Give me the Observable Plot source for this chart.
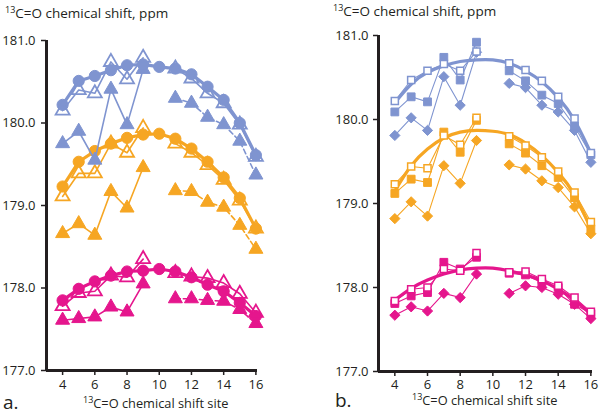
<!DOCTYPE html>
<html><head><meta charset="utf-8">
<script src="https://cdn.jsdelivr.net/npm/d3@7"></script>
<script src="https://cdn.jsdelivr.net/npm/@observablehq/plot@0.6"></script>
<style>
body{margin:0;background:#fff;font-family:"Open Sans",sans-serif;color:#231f20}
#wrap{position:relative;width:600px;height:414px;overflow:hidden;background:#fff}
.panel{position:absolute;top:0;width:300px;height:414px}
.lbl{position:absolute;font-size:13.5px;white-space:nowrap;line-height:15px;color:#231f20}
.lbl.xl{font-size:12.8px}
.lbl .sup{font-size:9px;position:relative;top:-5px}
.tag{position:absolute;font-size:19px;line-height:19px;color:#231f20}
</style></head><body>
<div id="wrap">
  <div class="panel" id="pa" style="left:0"></div>
  <div class="panel" id="pb" style="left:300px"></div>
  <div class="lbl" style="left:5px;top:6px"><span class="sup">13</span>C=O chemical shift, ppm</div>
  <div class="lbl" style="left:333px;top:4px"><span class="sup">13</span>C=O chemical shift, ppm</div>
  <div class="lbl xl" style="left:83px;top:396px"><span class="sup">13</span>C=O chemical shift site</div>
  <div class="lbl xl" style="left:412px;top:393px"><span class="sup">13</span>C=O chemical shift site</div>
  <div class="tag" style="left:3px;top:393px">a.</div>
  <div class="tag" style="left:335px;top:391px">b.</div>
</div>
<script>
const sites = [4,5,6,7,8,9,10,11,12,13,14,15,16];
const yTicks = [177,178,179,180,181];
const xTicks = [4,6,8,10,12,14,16];

// Panel a
const aBlueCircle   = [180.22,180.51,180.57,180.64,180.70,180.71,180.68,180.66,180.59,180.44,180.28,180.00,179.61];
const aBlueOpenTri  = [180.15,180.40,180.36,180.74,180.53,180.79,null,180.66,180.54,180.36,180.24,179.98,179.59];
const aBlueFillTri  = [179.75,179.90,179.55,180.41,179.98,180.65,null,180.30,180.24,180.07,179.98,179.78,179.37];
const aOrangeCircle  = [179.23,179.53,179.66,179.75,179.82,179.86,179.87,179.81,179.69,179.53,179.34,179.09,178.72];
const aOrangeOpenTri = [179.11,179.39,179.39,179.75,179.64,179.94,null,179.75,179.64,179.49,179.31,179.06,178.72];
const aOrangeFillTri = [178.66,178.78,178.64,179.17,178.97,179.46,null,179.18,179.17,179.04,178.98,178.76,178.47];
const aPinkCircle   = [177.85,177.99,178.08,178.15,178.20,178.21,178.23,178.20,178.13,178.04,177.96,177.82,177.66];
const aPinkOpenTri  = [177.78,177.94,177.96,178.15,178.13,178.35,null,178.18,178.14,178.12,178.06,177.93,177.70];
const aPinkFillTri  = [177.61,177.63,177.65,177.77,177.71,178.05,null,177.87,177.87,177.85,177.84,177.74,177.57];

// Panel b
const bBlueCurve   = [180.20,180.42,180.56,180.64,180.69,180.71,180.71,180.67,180.58,180.45,180.26,179.99,179.60];
const bBlueOpenSq  = [180.22,180.47,180.58,180.66,180.58,180.81,null,180.67,180.59,180.46,180.27,180.01,179.60];
const bBlueFillSq  = [180.09,180.27,180.21,180.74,180.47,180.92,null,180.58,180.46,180.29,180.19,179.92,179.58];
const bBlueDiamond = [179.81,180.02,179.87,180.51,180.17,180.80,null,180.43,180.38,180.17,180.09,179.87,179.49];
const bOrangeCurve   = [179.15,179.45,179.65,179.78,179.85,179.87,179.86,179.82,179.72,179.57,179.37,179.10,178.70];
const bOrangeOpenSq  = [179.23,179.44,179.42,179.81,179.70,180.02,null,179.80,179.69,179.55,179.38,179.13,178.78];
const bOrangeFillSq  = [179.12,179.29,179.25,179.85,179.61,179.99,null,179.71,179.60,179.45,179.31,179.07,178.70];
const bOrangeDiamond = [178.82,179.02,178.85,179.45,179.24,179.75,null,179.46,179.41,179.27,179.19,178.96,178.64];
const bPinkCurve   = [177.85,177.99,178.09,178.16,178.21,178.23,178.23,178.20,178.15,178.08,177.98,177.85,177.68];
const bPinkOpenSq  = [177.84,177.98,178.00,178.22,178.20,178.41,null,178.18,178.19,178.10,178.02,177.88,177.71];
const bPinkFillSq  = [177.81,177.90,177.94,178.30,178.22,178.36,null,178.17,178.15,178.06,178.00,177.80,177.69];
const bPinkDiamond = [177.67,177.77,177.72,177.93,177.88,178.16,null,177.93,178.02,178.00,177.92,177.80,177.63];

const C = {blue:"#7f94d0", orange:"#f6a623", pink:"#e5168d"};

function rows(arr){ return sites.map((s,i)=>({site:s, v:arr[i]})); }
function pts(arr){ return rows(arr).filter(d=>d.v!=null); }

function axes(tickPad, xPad){
  return [
    Plot.ruleX([3], {stroke:"#231f20", strokeWidth:3}),
    Plot.ruleY([177], {stroke:"#231f20", strokeWidth:3}),
    Plot.axisY({ticks:yTicks, tickFormat:d=>d.toFixed(1), tickSize:5, tickPadding:tickPad, label:null, strokeWidth:1.5}),
    Plot.axisX({ticks:xTicks, tickSize:5, tickPadding:xPad, label:null, strokeWidth:1.5})
  ];
}

// ---- Panel a ----
function groupA(circle, openTri, fillTri, col){
  return [
    Plot.line(rows(fillTri).filter(d=>d.site<10), {x:"site", y:"v", stroke:col, strokeWidth:1.6}),
    Plot.line(rows(fillTri).filter(d=>d.site>10), {x:"site", y:"v", stroke:col, strokeWidth:1.6, strokeDasharray:"5,3"}),
    Plot.line(rows(openTri), {x:"site", y:"v", stroke:col, strokeWidth:1.6}),
    Plot.line(rows(circle), {x:"site", y:"v", stroke:col, strokeWidth:3.2}),
    Plot.dot(pts(fillTri), {x:"site", y:"v", symbol:"triangle", r:5.2, fill:col, stroke:col, strokeWidth:1}),
    Plot.dot(pts(circle), {x:"site", y:"v", symbol:"circle", r:5.6, fill:col, stroke:col, strokeWidth:1}),
    Plot.dot(pts(openTri), {x:"site", y:"v", symbol:"triangle", r:5.2, fill:"white", fillOpacity:0, stroke:col, strokeWidth:1.8})
  ];
}

const plotA = Plot.plot({
  width:300, height:414,
  marginLeft:46, marginRight:43, marginTop:40, marginBottom:44,
  style:{fontFamily:"'Open Sans',sans-serif", fontSize:"13px", color:"#231f20", background:"white", overflow:"visible"},
  x:{domain:[3,16.1]},
  y:{domain:[177,181]},
  marks:[
    ...groupA(aPinkCircle, aPinkOpenTri, aPinkFillTri, C.pink),
    ...groupA(aOrangeCircle, aOrangeOpenTri, aOrangeFillTri, C.orange),
    ...groupA(aBlueCircle, aBlueOpenTri, aBlueFillTri, C.blue),
    ...axes(6, 4)
  ]
});
document.getElementById("pa").appendChild(plotA);

// ---- Panel b ----
function groupB(curve, openSq, fillSq, diamond, col){
  return [
    Plot.line(rows(curve), {x:"site", y:"v", stroke:col, strokeWidth:3.2, curve:"natural"}),
    Plot.line(rows(diamond), {x:"site", y:"v", stroke:col, strokeWidth:1.1}),
    Plot.line(rows(fillSq), {x:"site", y:"v", stroke:col, strokeWidth:1.1}),
    Plot.line(rows(openSq), {x:"site", y:"v", stroke:col, strokeWidth:1.1}),
    Plot.dot(pts(diamond), {x:"site", y:"v", symbol:"diamond2", r:4.6, fill:col, stroke:col, strokeWidth:1}),
    Plot.dot(pts(fillSq), {x:"site", y:"v", symbol:"square", r:4.4, fill:col, stroke:col, strokeWidth:1}),
    Plot.dot(pts(openSq), {x:"site", y:"v", symbol:"square", r:4.0, fill:"white", stroke:col, strokeWidth:1.5})
  ];
}

const plotB = Plot.plot({
  width:300, height:414,
  marginLeft:78, marginRight:8, marginTop:35, marginBottom:43,
  style:{fontFamily:"'Open Sans',sans-serif", fontSize:"13px", color:"#231f20", background:"white", overflow:"visible"},
  x:{domain:[3,16.1]},
  y:{domain:[177,181]},
  marks:[
    ...groupB(bPinkCurve, bPinkOpenSq, bPinkFillSq, bPinkDiamond, C.pink),
    ...groupB(bOrangeCurve, bOrangeOpenSq, bOrangeFillSq, bOrangeDiamond, C.orange),
    ...groupB(bBlueCurve, bBlueOpenSq, bBlueFillSq, bBlueDiamond, C.blue),
    ...axes(5, 3)
  ]
});
document.getElementById("pb").appendChild(plotB);
</script>
</body></html>
